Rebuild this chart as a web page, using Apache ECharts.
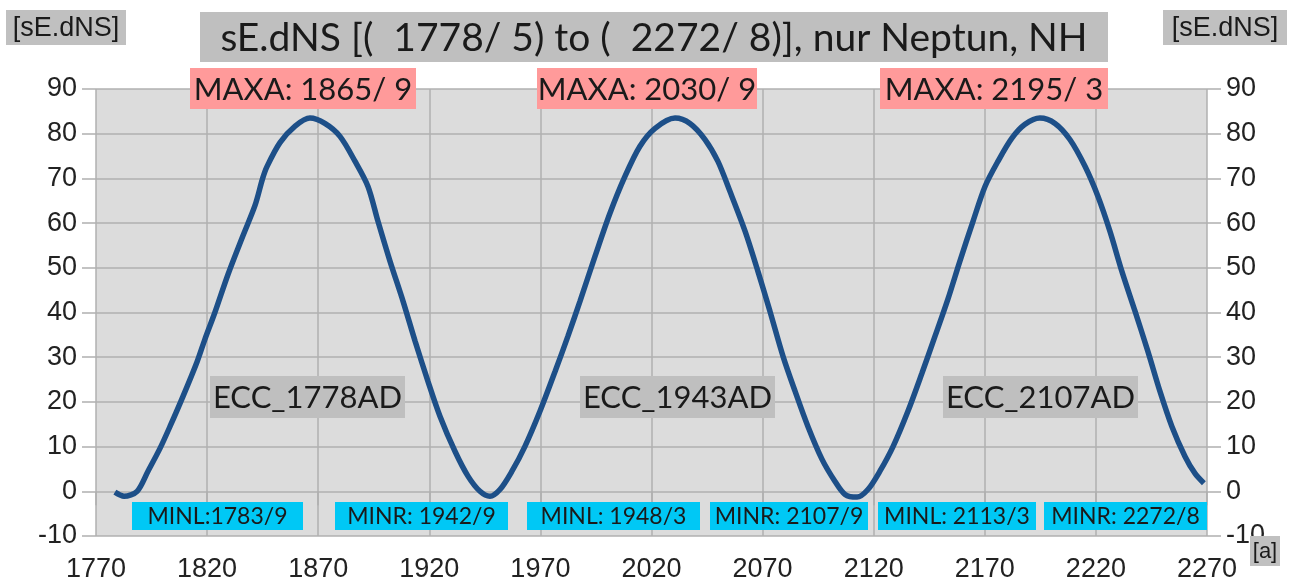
<!DOCTYPE html>
<html>
<head>
<meta charset="utf-8">
<script src="https://cdn.jsdelivr.net/npm/echarts@6/dist/echarts.min.js"></script>
<style>html,body{margin:0;padding:0;background:#fff}#c{width:1294px;height:587px}</style>
</head>
<body>
<div id="c"></div>
<script>
const years = [1778.5,1782.6,1788.5,1793.4,1798.8,1803.3,1809.2,1815.5,1819,1823.5,1829.4,1836,1841.6,1845,1847,1852.8,1859.6,1866.3,1873,1879.8,1886.6,1892.4,1896.9,1902.3,1908.2,1913.6,1919.4,1924.8,1931.6,1937.4,1942.8,1947.3,1951.8,1957.2,1963,1969.8,1976.6,1982.4,1987.8,1994.6,2001.3,2008.1,2014.8,2021.6,2030.6,2037.3,2044.1,2049.9,2055.3,2062.1,2067.9,2073.3,2079.2,2084.6,2090.4,2096.7,2102.6,2107.1,2112.5,2117.4,2122.8,2128.7,2135.4,2141.7,2147.6,2153.4,2158.8,2164.7,2170.1,2175.9,2182.2,2188.1,2194.8,2201.6,2208.3,2215.1,2220.9,2226.3,2231.7,2237.6,2243.4,2248.8,2254.2,2260.1,2264.6,2268.6];
const values = [-0.2,-1.1,0,4.5,9.6,14.5,21.3,29,34,40,48.5,57,64,70,72.7,78,81.7,83.5,82.3,79.4,73.8,68.2,60.4,51.5,42.5,33.6,24.6,16.8,8.9,3.4,0,-1.1,0.4,4.5,10,17.9,26.8,34.7,42.5,52.6,62.2,70.5,77.2,81.2,83.5,82.3,78.7,73.8,67.1,58.2,49.2,40.3,30.2,22.4,14.5,7.2,2.2,-0.7,-1.3,0.4,4.5,10,17.9,26.4,34.7,43,51.5,60.4,68.2,73.8,79,82.1,83.5,82.3,78.7,72.7,66,58.2,49.2,40.3,31.3,22.4,14.5,7.8,4,1.8];
const xTicks = {min: 1770, max: 2270, step: 50};
const yTicks = {min: -10, max: 90, step: 10};
const titleText = 'sE.dNS [(  1778/ 5) to (  2272/ 8)], nur Neptun, NH';
const unitY = '[sE.dNS]';
const unitX = '[a]';
const maxLabels = ['MAXA: 1865/ 9', 'MAXA: 2030/ 9', 'MAXA: 2195/ 3'];
const eccLabels = ['ECC_1778AD', 'ECC_1943AD', 'ECC_2107AD'];
const minLabels = ['MINL:1783/9', 'MINR: 1942/9', 'MINL: 1948/3', 'MINR: 2107/9', 'MINL: 2113/3', 'MINR: 2272/8'];

const chart = echarts.init(document.getElementById('c'));
const TXT = '#1a1a1a';
function box(x, y, w, h, fill, text, font) {
  return {
    type: 'group', x: x, y: y, z: 100,
    children: [
      {type: 'rect', shape: {x: 0, y: 0, width: w, height: h}, style: {fill: fill}, z: 100},
      {type: 'text', z: 101, style: {text: text, x: w / 2, y: h / 2 + 1, align: 'center', verticalAlign: 'middle', textAlign: 'center', textVerticalAlign: 'middle', font: font, fill: TXT}}
    ]
  };
}
const calib = 'Lato, "Open Sans", sans-serif';
const arial = '"Liberation Sans", Arial, sans-serif';
const graphics = [
  box(200, 12, 908, 50, '#bfbfbf', titleText, '39px ' + calib),
  box(6, 10, 120, 35, '#c0c0c0', unitY, '27px ' + arial),
  box(1163, 10, 124, 35, '#c0c0c0', unitY, '27px ' + arial),
  box(1250, 536, 30, 30, '#c0c0c0', unitX, '22px ' + arial),
  box(190, 68, 226, 41, '#ff9a9a', maxLabels[0], '31px ' + calib),
  box(537, 68, 220, 41, '#ff9a9a', maxLabels[1], '31px ' + calib),
  box(880, 68, 228, 41, '#ff9a9a', maxLabels[2], '31px ' + calib),
  box(210, 376, 195, 42, '#bfbfbf', eccLabels[0], '31px ' + calib),
  box(580, 376, 195, 42, '#bfbfbf', eccLabels[1], '31px ' + calib),
  box(943, 376, 195, 42, '#bfbfbf', eccLabels[2], '31px ' + calib),
  box(132, 502, 171, 28, '#00c8f5', minLabels[0], '23px ' + calib),
  box(335, 502, 173, 28, '#00c8f5', minLabels[1], '23px ' + calib),
  box(527, 502, 173, 28, '#00c8f5', minLabels[2], '23px ' + calib),
  box(710, 502, 158, 28, '#00c8f5', minLabels[3], '23px ' + calib),
  box(878, 502, 158, 28, '#00c8f5', minLabels[4], '23px ' + calib),
  box(1044, 502, 163, 28, '#00c8f5', minLabels[5], '23px ' + calib)
];
const gridLine = {show: true, lineStyle: {color: '#b0b0b0', width: 1.5}};
const plain = v => String(v);
const yAxisBase = {
  type: 'value', min: yTicks.min, max: yTicks.max, interval: yTicks.step,
  axisLine: {show: false},
  axisTick: {show: true, length: 14, lineStyle: {color: '#b0b0b0', width: 1.5}},
  axisLabel: {color: '#222', fontSize: 27, fontFamily: arial, margin: 19, formatter: plain},
  splitLine: gridLine
};
chart.setOption({
  animation: false,
  backgroundColor: '#ffffff',
  grid: {left: 96, right: 87, top: 89, bottom: 51, show: true, backgroundColor: '#dcdcdc', borderWidth: 0},
  xAxis: {
    type: 'value', min: xTicks.min, max: xTicks.max, interval: xTicks.step,
    axisLine: {show: false},
    axisTick: {show: true, length: 14, lineStyle: {color: '#b0b0b0', width: 1.5}},
    axisLabel: {color: '#222', fontSize: 27, fontFamily: arial, margin: 20, formatter: plain},
    splitLine: gridLine
  },
  yAxis: [
    Object.assign({}, yAxisBase, {position: 'left'}),
    Object.assign({}, yAxisBase, {position: 'right', splitLine: {show: false}})
  ],
  series: [{
    type: 'line',
    data: years.map((y, i) => [y, values[i]]),
    showSymbol: false,
    smooth: 0.3,
    lineStyle: {color: '#1d4f88', width: 5.5},
    z: 5
  }],
  graphic: graphics
});
</script>
</body>
</html>
